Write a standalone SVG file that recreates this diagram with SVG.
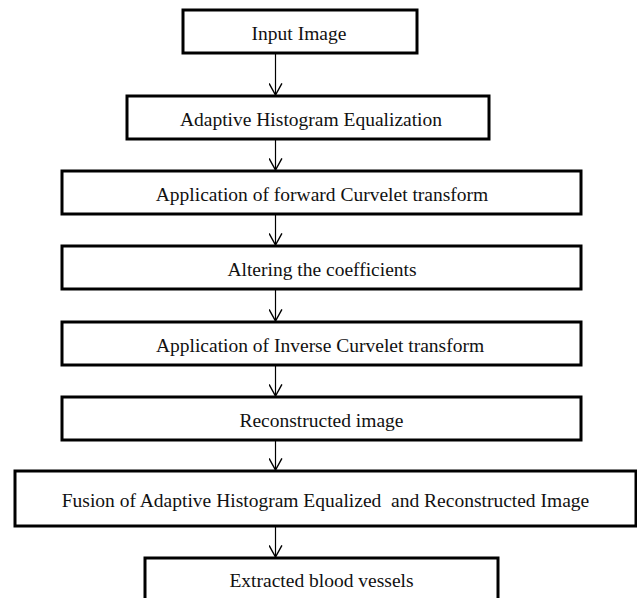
<svg xmlns="http://www.w3.org/2000/svg" width="637" height="598" viewBox="0 0 637 598">
<defs>
<style>
.box{fill:#fff;stroke:#000;stroke-width:3}
.lbl{font-family:"Liberation Serif","Times New Roman",serif;font-size:19.5px;fill:#111;text-anchor:middle}
.con{stroke:#000;stroke-width:1.2;fill:none}
</style>
<marker id="ah" markerUnits="userSpaceOnUse" markerWidth="14" markerHeight="14" refX="11" refY="6" orient="auto" viewBox="0 0 12 12">
<path d="M1,0.5 L11,6 L1,11.5" fill="none" stroke="#000" stroke-width="1.2"/>
</marker>
</defs>
<rect width="637" height="598" fill="#fff"/>
<g id="connectors">
<line class="con" x1="275.5" y1="53" x2="275.5" y2="95" marker-end="url(#ah)"/>
<line class="con" x1="275.5" y1="139" x2="275.5" y2="170" marker-end="url(#ah)"/>
<line class="con" x1="275.5" y1="214" x2="275.5" y2="245" marker-end="url(#ah)"/>
<line class="con" x1="275.5" y1="289" x2="275.5" y2="321" marker-end="url(#ah)"/>
<line class="con" x1="275.5" y1="365" x2="275.5" y2="396" marker-end="url(#ah)"/>
<line class="con" x1="275.5" y1="440" x2="275.5" y2="470" marker-end="url(#ah)"/>
<line class="con" x1="275.5" y1="526" x2="275.5" y2="557" marker-end="url(#ah)"/>
</g>
<g id="n1"><rect class="box" x="183" y="10" width="234" height="43"/><text class="lbl" x="299" y="40">Input Image</text></g>
<g id="n2"><rect class="box" x="127" y="96" width="362" height="43"/><text class="lbl" x="311" y="126">Adaptive Histogram Equalization</text></g>
<g id="n3"><rect class="box" x="62" y="171" width="519" height="43"/><text class="lbl" x="322" y="201">Application of forward Curvelet transform</text></g>
<g id="n4"><rect class="box" x="62" y="246" width="519" height="43"/><text class="lbl" x="322" y="276">Altering the coefficients</text></g>
<g id="n5"><rect class="box" x="62" y="322" width="519" height="43"/><text class="lbl" x="320" y="352">Application of Inverse Curvelet transform</text></g>
<g id="n6"><rect class="box" x="62" y="397" width="519" height="43"/><text class="lbl" x="321.5" y="427">Reconstructed image</text></g>
<g id="n7"><rect class="box" x="15" y="471" width="621" height="55"/><text class="lbl" x="325.5" y="507" xml:space="preserve">Fusion of Adaptive Histogram Equalized  and Reconstructed Image</text></g>
<g id="n8"><rect class="box" x="145" y="558" width="353" height="50"/><text class="lbl" x="321.5" y="587">Extracted blood vessels</text></g>
</svg>
